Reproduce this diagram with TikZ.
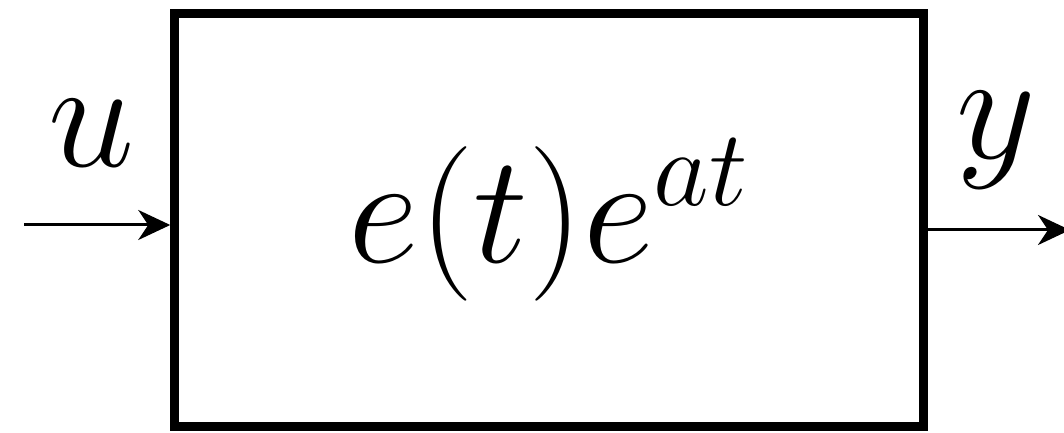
\RequirePackage{fix-cm}
\documentclass[tikz,border=0pt]{standalone}
\usepackage{amsmath}
\usepackage{tikz}
\usetikzlibrary{arrows.meta,positioning,calc}

\begin{document}
\begin{tikzpicture}[font=\fontsize{44}{52}\selectfont,
  blk/.style={rectangle,draw=black,line width=0.09cm,inner sep=0pt,
    minimum width=7.485cm,minimum height=4.125cm},
  sig/.style={draw=black,line width=0.03cm,-{Stealth[length=3.2mm,width=3mm,inset=1mm]}},
  lbl/.style={anchor=base,inner sep=0pt}]
  \useasboundingbox (0,0) rectangle (10.64,4.33);
  \node[blk] (sys) at (5.49,2.13) {$e(t)e^{at}$};
  \coordinate (u0) at (0.24,2.08);
  \coordinate (y1) at (10.70,2.03);
  \draw[sig] (u0) -- (u0 -| sys.west);
  \draw[sig] (sys.east |- y1) -- (y1);
  \node[lbl] (ulab) at (0.915,2.66) {$u$};
  \node[lbl] (ylab) at (9.965,2.74) {$y$};
\end{tikzpicture}
\end{document}
